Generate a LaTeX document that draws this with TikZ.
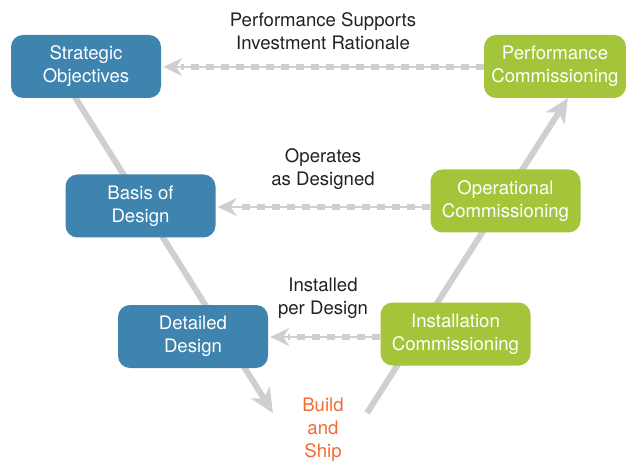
\documentclass[tikz,border=0pt]{standalone}
\usepackage{fontspec}
\setmainfont{TeX Gyre Heros}
\usetikzlibrary{arrows.meta}
\definecolor{bluebox}{HTML}{3E84AE}
\definecolor{greenbox}{HTML}{A4C43A}
\definecolor{lgray}{HTML}{CFCFD1}
\definecolor{txt}{HTML}{222222}
\definecolor{orangetxt}{HTML}{F26B33}
\begin{document}
\begin{tikzpicture}[x=1pt,y=-1pt,
  box/.style={rounded corners=12pt, minimum width=150pt, minimum height=63pt,
    text=white, align=center, inner sep=0pt, font=\fontsize{18.6}{23}\selectfont},
  bluenode/.style={box, fill=bluebox},
  greennode/.style={box, fill=greenbox},
  lbl/.style={text=txt, align=center, font=\fontsize{18.6}{23}\selectfont},
  vline/.style={draw=lgray, line width=6pt, -{Stealth[length=24pt,width=22pt,inset=7pt]}},
  dashbase/.style={draw=lgray, line width=2pt},
  dashtop/.style={draw=lgray, line width=6pt, dash pattern=on 8pt off 7pt},
  tipline/.style={draw=lgray, line width=2pt, -{Stealth[length=19pt,width=18pt,inset=6pt]}}
]
\useasboundingbox (0,0) rectangle (626,462);
% V lines
\coordinate (l1) at (63,78);
\coordinate (l2) at (273,413);
\coordinate (r1) at (367,413);
\coordinate (r2) at (568,98);
\draw[vline] (l1) -- (l2);
\draw[vline] (r1) -- (r2);
% boxes
\node[bluenode] (so) at (86,66.5) {Strategic\\Objectives};
\node[bluenode] (bd) at (140.5,206) {Basis of\\Design};
\node[bluenode] (dd) at (193,336.5) {Detailed\\Design};
\node[greennode, minimum width=142pt] (pc) at (555,66.5) {Performance\\Commissioning};
\node[greennode] (oc) at (505.5,201) {Operational\\Commissioning};
\node[greennode] (ic) at (455.5,334) {Installation\\Commissioning};
% labels
\node[lbl] (t1) at (323,31) {Performance Supports\\Investment Rationale};
\node[lbl] (t2) at (323,169) {Operates\\as Designed};
\node[lbl] (t3) at (323,298) {Installed\\per Design};
\node[lbl, text=orangetxt] (bs) at (323,430) {Build\\and\\Ship};
% dashed connectors
\foreach \a/\b/\yy in {pc/so/67, oc/bd/207, ic/dd/337}{
  \draw[dashbase] (\a.west |- 0,\yy) -- ([xshift=18pt]\b.east |- 0,\yy);
  \draw[dashtop] (\a.west |- 0,\yy) -- ([xshift=20pt]\b.east |- 0,\yy);
  \draw[tipline] ([xshift=22pt]\b.east |- 0,\yy) -- ([xshift=2pt]\b.east |- 0,\yy);
}
\end{tikzpicture}
\end{document}
